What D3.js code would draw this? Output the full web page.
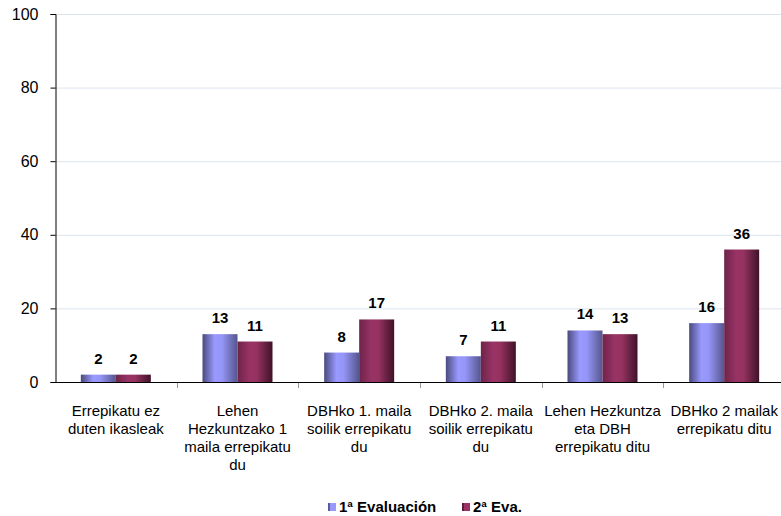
<!DOCTYPE html>
<html>
<head>
<meta charset="utf-8">
<script src="https://cdn.jsdelivr.net/npm/d3@7"></script>
<style>
  body { margin: 0; background: #fff; }
  svg { display: block; }
  svg text { font-family: 'Liberation Sans', Arial, Helvetica, sans-serif; fill: #000; }
</style>
</head>
<body>
<svg id="chart" width="781" height="516"></svg>
<script>
  const categories = [
    ['Errepikatu ez', 'duten ikasleak'],
    ['Lehen', 'Hezkuntzako 1', 'maila errepikatu', 'du'],
    ['DBHko 1. maila', 'soilik errepikatu', 'du'],
    ['DBHko 2. maila', 'soilik errepikatu', 'du'],
    ['Lehen Hezkuntza', 'eta DBH', 'errepikatu ditu'],
    ['DBHko 2 mailak', 'errepikatu ditu']
  ];
  const eval1 = [2, 13, 8, 7, 14, 16];
  const eval2 = [2, 11, 17, 11, 13, 36];
  const seriesNames = ['1ª Evaluación', '2ª Eva.'];
  const yTicks = [0, 20, 40, 60, 80, 100];

  const svg = d3.select('#chart');
  const plotLeft = 55, plotRight = 785, plotTop = 14, plotBottom = 382;

  const x = d3.scaleBand().domain(d3.range(categories.length)).range([plotLeft, plotRight]);
  const y = d3.scaleLinear().domain([0, 100]).range([plotBottom, plotTop]);
  const barW = 35;

  // gradients for the cylinder-ish bars
  const defs = svg.append('defs');
  function grad(id, stops) {
    const g = defs.append('linearGradient').attr('id', id)
      .attr('x1', '0%').attr('x2', '100%').attr('y1', '0%').attr('y2', '0%');
    stops.forEach(s => g.append('stop').attr('offset', s[0]).attr('stop-color', s[1]));
  }
  grad('g1', [['0%', '#4a4a7e'], ['35%', '#9999ff'], ['55%', '#9696f8'], ['100%', '#55558e']]);
  grad('g2', [['0%', '#6e2449'], ['35%', '#993366'], ['55%', '#96325f'], ['100%', '#3f1229']]);

  // gridlines
  svg.append('g').selectAll('line').data(yTicks.filter(d => d > 0)).enter().append('line')
    .attr('x1', plotLeft).attr('x2', plotRight)
    .attr('y1', d => y(d) + 0.5).attr('y2', d => y(d) + 0.5)
    .attr('stroke', '#dae4ec').attr('stroke-width', 1);

  // y axis
  const yAxis = svg.append('g').attr('transform', `translate(${plotLeft + 0.5},0)`)
    .call(d3.axisLeft(y).tickValues(yTicks).tickSize(5).tickPadding(12));
  yAxis.select('.domain').attr('stroke', '#000');
  yAxis.selectAll('.tick line').attr('stroke', '#000');
  yAxis.selectAll('.tick text').attr('font-family', null).attr('font-size', 16);

  // bars + value labels
  const series = [eval1, eval2];
  const fills = ['url(#g1)', 'url(#g2)'];
  series.forEach((vals, s) => {
    const g = svg.append('g');
    g.selectAll('rect').data(vals).enter().append('rect')
      .attr('x', (d, i) => x(i) + x.bandwidth() / 2 - barW + s * barW)
      .attr('width', barW)
      .attr('y', d => y(d))
      .attr('height', d => plotBottom - y(d))
      .attr('fill', fills[s]);
    g.selectAll('text').data(vals).enter().append('text')
      .attr('x', (d, i) => x(i) + x.bandwidth() / 2 - barW / 2 + s * barW)
      .attr('y', d => y(d) - 11)
      .attr('text-anchor', 'middle')
      .attr('font-weight', 'bold').attr('font-size', 15)
      .text(d => d);
  });

  // x axis
  svg.append('line').attr('x1', plotLeft).attr('x2', plotRight)
    .attr('y1', plotBottom + 0.5).attr('y2', plotBottom + 0.5).attr('stroke', '#000');
  svg.append('g').selectAll('line').data(d3.range(1, categories.length)).enter().append('line')
    .attr('x1', i => Math.round(x(i)) + 0.5).attr('x2', i => Math.round(x(i)) + 0.5)
    .attr('y1', plotBottom + 1).attr('y2', plotBottom + 6).attr('stroke', '#999');

  // category labels
  const catG = svg.append('g');
  categories.forEach((lines, i) => {
    const t = catG.append('text')
      .attr('text-anchor', 'middle')
      .attr('font-size', 15);
    lines.forEach((ln, k) => {
      t.append('tspan').attr('x', x(i) + x.bandwidth() / 2).attr('y', 415.5 + k * 18.3).text(ln);
    });
  });

  // legend
  const legend = [{ x: 328, c: '#9999ff', edge: '#5c5c99' }, { x: 462, c: '#993366', edge: '#5a1e3c' }];
  legend.forEach((l, i) => {
    svg.append('rect').attr('x', l.x).attr('y', 503).attr('width', 8).attr('height', 8).attr('fill', l.c);
    svg.append('rect').attr('x', l.x).attr('y', 503).attr('width', 2).attr('height', 8).attr('fill', l.edge);
    svg.append('text').attr('x', l.x + 11).attr('y', 512)
      .attr('font-weight', 'bold').attr('font-size', 15)
      .text(seriesNames[i]);
  });
</script>
</body>
</html>
